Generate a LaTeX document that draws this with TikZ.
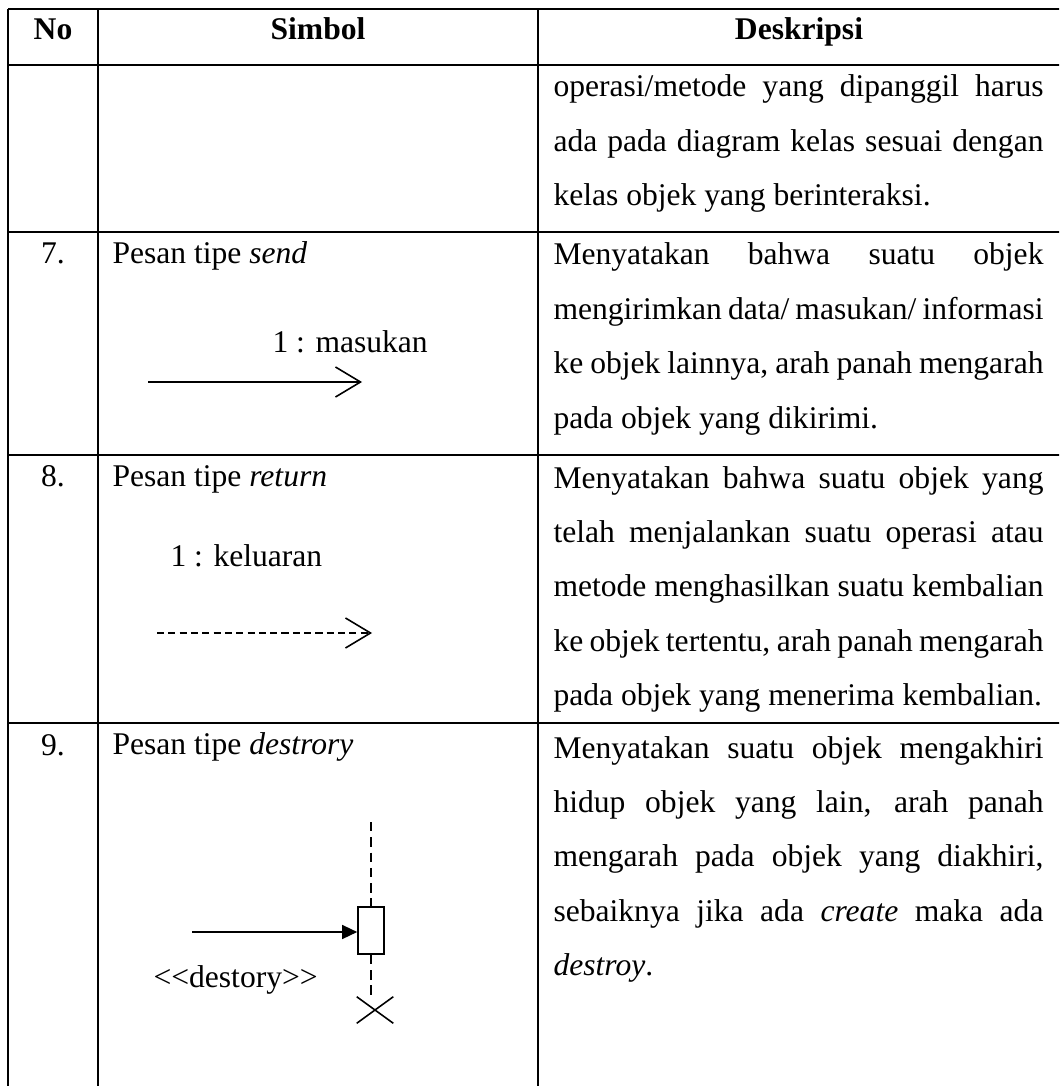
\documentclass[tikz,border=0pt]{standalone}
\usepackage{fontspec}
\setmainfont{Liberation Serif}
\usetikzlibrary{arrows.meta,shapes.misc}
\tolerance=10000
\hyphenpenalty=10000
\tikzset{
    >=Stealth,
    tbl/.style={
        rule/.append style={line width=0.9pt},
        hd/.append style={font=\fontsize{12}{14}\selectfont\bfseries,inner sep=0pt,anchor=base},
        num/.append style={font=\fontsize{12}{14}\selectfont,inner sep=0pt,anchor=base},
        sym/.append style={font=\fontsize{12}{14}\selectfont,inner sep=0pt,anchor=base west},
        desc/.append style={font=\fontsize{12}{20.7}\selectfont,inner sep=0pt,anchor=base west,text width=186.2pt,align=justify},
        msg/.append style={line width=0.6pt},
        send/.append style={-{Straight Barb[length=9.5pt,width=11.4pt,line width=0.6pt]}},
        ret/.append style={dash pattern=on 2.7pt off 1.6pt},
        kill/.append style={-{Triangle[length=5.7pt,width=5.3pt]}},
        life/.append style={line width=0.6pt,dash pattern=on 3.6pt off 2.2pt},
        act/.append style={draw,line width=0.6pt,fill=white,minimum width=9.9pt,minimum height=17.9pt,inner sep=0pt},
        xmark/.append style={draw,cross out,line width=0.6pt,minimum width=13.3pt,minimum height=9.5pt,inner sep=0pt}
    }
}

\begin{document}
\begin{tikzpicture}[tbl,x=0.38pt,y=-0.38pt]
    \useasboundingbox (0,0) rectangle (1059,1086);
    \clip (0,0) rectangle (1059,1086);

    % table rules
    \foreach \y in {9,65,232,455,723}
        \draw[rule] (8,\y) -- (1061,\y);
    \foreach \x in {8,98,538,1061}
        \draw[rule] (\x,9) -- (\x,1095);

    % header
    \node[hd] (hno) at (53,40) {No};
    \node[hd] (hsym) at (318,40) {Simbol};
    \node[hd] (hdesc) at (799,40) {Deskripsi};

    % row 6 (continued)
    \node[desc] (d6) at (553,97) {operasi/metode yang dipanggil harus\linebreak ada pada diagram kelas sesuai dengan\linebreak kelas objek yang berinteraksi.};

    % row 7: send
    \node[num] (n7) at (53,264) {7.};
    \node[sym] (s7) at (112,264) {Pesan tipe \textit{send}};
    \node[sym] (l7) at (272,353) {1 : masukan};
    \coordinate (a7) at (148,382);
    \coordinate (b7) at (362,382);
    \draw[msg,send] (a7) -- (b7);
    \node[desc] (d7) at (553,265) {Menyatakan bahwa suatu objek\linebreak mengirimkan data/ masukan/ informasi\linebreak ke objek lainnya, arah panah mengarah\linebreak pada objek yang dikirimi.};

    % row 8: return
    \node[num] (n8) at (53,487) {8.};
    \node[sym] (s8) at (112,487) {Pesan tipe \textit{return}};
    \node[sym] (l8) at (170,566) {1 : keluaran};
    \coordinate (a8) at (157,633);
    \coordinate (b8) at (372,633);
    \draw[msg,ret,send] (a8) -- (b8);
    \node[desc] (d8) at (553,488) {Menyatakan bahwa suatu objek yang\linebreak telah menjalankan suatu operasi atau\linebreak metode menghasilkan suatu kembalian\linebreak ke objek tertentu, arah panah mengarah\linebreak pada objek yang menerima kembalian.};

    % row 9: destroy
    \node[num] (n9) at (53,755) {9.};
    \node[sym] (s9) at (112,754) {Pesan tipe \textit{destrory}};
    \coordinate (top9) at (371,822);
    \node[act] (box9) at (371,930.5) {};
    \node[xmark] (x9) at (375,1010) {};
    \draw[life] (top9) -- (box9.north);
    \draw[life] (box9.south) -- (box9.south |- x9.north);
    \coordinate (a9) at (192,932);
    \draw[msg,kill] (a9) -- (a9 -| box9.west);
    \node[sym] (l9) at (153,987) {<\kern0pt<destory>\kern0pt>};
    \node[desc] (d9) at (553,758) {Menyatakan suatu objek mengakhiri\linebreak hidup objek yang lain, arah panah\linebreak mengarah pada objek yang diakhiri,\linebreak sebaiknya jika ada \textit{create} maka ada\linebreak \textit{destroy}.};
\end{tikzpicture}
\end{document}
